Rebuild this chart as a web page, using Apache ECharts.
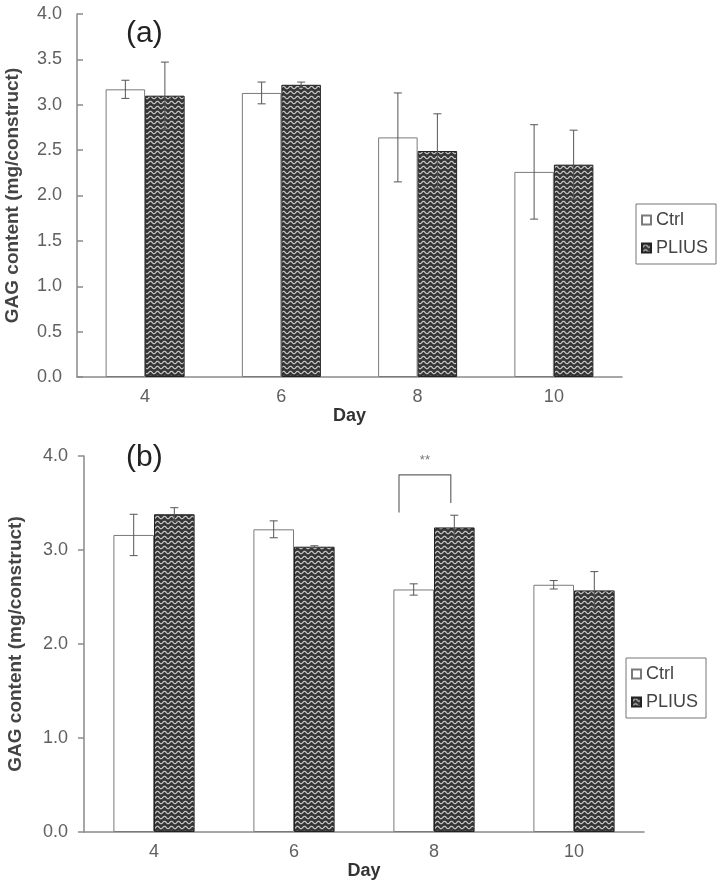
<!DOCTYPE html>
<html>
<head>
<meta charset="utf-8">
<script src="https://cdn.jsdelivr.net/npm/echarts@6/dist/echarts.min.js"></script>
<style>html,body{margin:0;padding:0;background:#fff}#c{width:724px;height:884px}</style>
</head>
<body>
<div id="c"></div>
<script>
// ---- data ----
const days = ['4', '6', '8', '10'];
const ctrlA = [3.17, 3.13, 2.64, 2.26];
const ctrlAErr = [0.10, 0.12, 0.49, 0.52];
const pliusA = [3.10, 3.22, 2.49, 2.34];
const pliusAErr = [0.37, 0.03, 0.41, 0.38];
const ctrlB = [3.16, 3.22, 2.58, 2.63];
const ctrlBErr = [0.22, 0.09, 0.06, 0.045];
const pliusB = [3.38, 3.035, 3.24, 2.57];
const pliusBErr = [0.07, 0.01, 0.13, 0.20];
const yTicksA = [0, 0.5, 1, 1.5, 2, 2.5, 3, 3.5, 4];
const yTicksB = [0, 1, 2, 3, 4];
// significance bracket (panel b): [category index, bracket top, left leg bottom, right leg bottom, label value]
const sigBracket = [[2, 3.80, 3.40, 3.50, 3.95]];
const sigLabel = '**';

// ---- pattern ----
function makePattern() {
  const cv = document.createElement('canvas');
  cv.width = 7; cv.height = 5;
  const g = cv.getContext('2d');
  g.fillStyle = '#353535';
  g.fillRect(0, 0, 7, 5);
  g.strokeStyle = '#c4c4c4';
  g.lineWidth = 1.2;
  g.beginPath();
  for (let i = 0; i <= 28; i++) {
    const x = i * 0.25;
    const y = 2.5 + 1.2 * Math.cos(2 * Math.PI * x / 7);
    if (i === 0) g.moveTo(x, y); else g.lineTo(x, y);
  }
  g.stroke();
  return { image: cv, repeat: 'repeat' };
}
const pat = makePattern();

const FONT = 'Liberation Sans, Arial, sans-serif';
const BARW = 0.29;

function errSeries(means, errs, side, xi, yi) {
  return {
    type: 'custom', xAxisIndex: xi, yAxisIndex: yi, z: 10, silent: true,
    data: means.map((m, i) => [i, m, errs[i]]),
    renderItem: function (params, api) {
      const i = api.value(0), m = api.value(1), e = api.value(2);
      const band = api.size([1, 0])[0];
      const cx = api.coord([i, m])[0] + side * band * BARW / 2;
      const yt = api.coord([i, m + e])[1];
      const yb = api.coord([i, m - e])[1];
      const hw = 4;
      const st = { stroke: '#555', lineWidth: 1 };
      return { type: 'group', children: [
        { type: 'line', shape: { x1: cx, y1: yt, x2: cx, y2: yb }, style: st },
        { type: 'line', shape: { x1: cx - hw, y1: yt, x2: cx + hw, y2: yt }, style: st },
        { type: 'line', shape: { x1: cx - hw, y1: yb, x2: cx + hw, y2: yb }, style: st }
      ]};
    }
  };
}

function xAxis(gi, inside, gap) {
  return {
    type: 'category', gridIndex: gi, data: days,
    name: 'Day', nameLocation: 'middle', nameGap: gap,
    nameTextStyle: { fontFamily: FONT, fontSize: 18, fontWeight: 'bold', color: '#333' },
    axisLine: { lineStyle: { color: '#8a8a8a', width: 1.5 } },
    axisTick: { inside: inside, length: 6, lineStyle: { color: '#8a8a8a', width: 1.5 } },
    axisLabel: { fontFamily: FONT, fontSize: 18, color: '#606060', margin: 11 }
  };
}
function yAxis(gi, ticks, inside, gap, margin) {
  return {
    type: 'value', gridIndex: gi, min: ticks[0], max: ticks[ticks.length - 1],
    interval: ticks[1] - ticks[0],
    name: 'GAG content (mg/construct)', nameLocation: 'middle', nameGap: gap,
    nameTextStyle: { fontFamily: FONT, fontSize: 19, fontWeight: 'bold', color: '#444' },
    axisLine: { show: true, lineStyle: { color: '#8a8a8a', width: 1.5 } },
    axisTick: { show: true, inside: inside, length: 6, lineStyle: { color: '#8a8a8a', width: 1.5 } },
    splitLine: { show: false },
    axisLabel: { fontFamily: FONT, fontSize: 18, color: '#606060', margin: margin,
      formatter: v => v.toFixed(1) }
  };
}

const ctrlStyle = { color: '#ffffff', borderColor: '#7a7a7a', borderWidth: 1 };
const pliusStyle = { color: pat, borderColor: '#222', borderWidth: 1 };

function legend(left, top) {
  return {
    left: left, top: top, orient: 'vertical', data: ['Ctrl', 'PLIUS'],
    icon: 'rect', itemWidth: 9, itemHeight: 9, itemGap: 10,
    borderColor: '#777', borderWidth: 1, padding: [7, 8, 7, 5],
    textStyle: { fontFamily: FONT, fontSize: 18, color: '#444' }
  };
}

const chart = echarts.init(document.getElementById('c'), null, { renderer: 'canvas' });
chart.setOption({
  animation: false,
  backgroundColor: '#fff',
  title: [
    { text: '(a)', left: 121, top: 14, textStyle: { fontFamily: FONT, fontSize: 30, fontWeight: 'normal', color: '#222' } },
    { text: '(b)', left: 121, top: 438, textStyle: { fontFamily: FONT, fontSize: 30, fontWeight: 'normal', color: '#222' } }
  ],
  legend: [legend(636, 204), legend(626, 658)],
  grid: [
    { left: 77, top: 14, width: 545, height: 363, containLabel: false, outerBoundsMode: 'none' },
    { left: 84, top: 456, width: 560, height: 376, containLabel: false, outerBoundsMode: 'none' }
  ],
  xAxis: [xAxis(0, true, 22), xAxis(1, false, 27)],
  yAxis: [yAxis(0, yTicksA, true, 55, 15), yAxis(1, yTicksB, false, 59, 16)],
  series: [
    { name: 'Ctrl', type: 'bar', xAxisIndex: 0, yAxisIndex: 0, data: ctrlA, barWidth: (BARW * 100) + '%', barGap: '0%', itemStyle: ctrlStyle },
    { name: 'PLIUS', type: 'bar', xAxisIndex: 0, yAxisIndex: 0, data: pliusA, barWidth: (BARW * 100) + '%', barGap: '0%', itemStyle: pliusStyle },
    { name: 'Ctrl', type: 'bar', xAxisIndex: 1, yAxisIndex: 1, data: ctrlB, barWidth: (BARW * 100) + '%', barGap: '0%', itemStyle: ctrlStyle },
    { name: 'PLIUS', type: 'bar', xAxisIndex: 1, yAxisIndex: 1, data: pliusB, barWidth: (BARW * 100) + '%', barGap: '0%', itemStyle: pliusStyle },
    errSeries(ctrlA, ctrlAErr, -1, 0, 0),
    errSeries(pliusA, pliusAErr, 1, 0, 0),
    errSeries(ctrlB, ctrlBErr, -1, 1, 1),
    errSeries(pliusB, pliusBErr, 1, 1, 1),
    {
      type: 'custom', xAxisIndex: 1, yAxisIndex: 1, z: 10, silent: true,
      data: sigBracket,
      renderItem: function (params, api) {
        const i = api.value(0);
        const band = api.size([1, 0])[0];
        const c = api.coord([i, 0])[0];
        const xl = c - band * 0.25, xr = c + band * 0.12;
        const yt = api.coord([i, api.value(1)])[1];
        const yl = api.coord([i, api.value(2)])[1];
        const yr = api.coord([i, api.value(3)])[1];
        const ys = api.coord([i, api.value(4)])[1];
        return { type: 'group', children: [
          { type: 'polyline', shape: { points: [[xl, yl], [xl, yt], [xr, yt], [xr, yr]] },
            style: { stroke: '#666', lineWidth: 1.2, fill: null } },
          { type: 'text', style: { text: sigLabel, x: (xl + xr) / 2, y: ys, align: 'center', verticalAlign: 'middle',
            fontFamily: FONT, fontSize: 13, fill: '#777' } }
        ]};
      }
    }
  ]
});
</script>
</body>
</html>
